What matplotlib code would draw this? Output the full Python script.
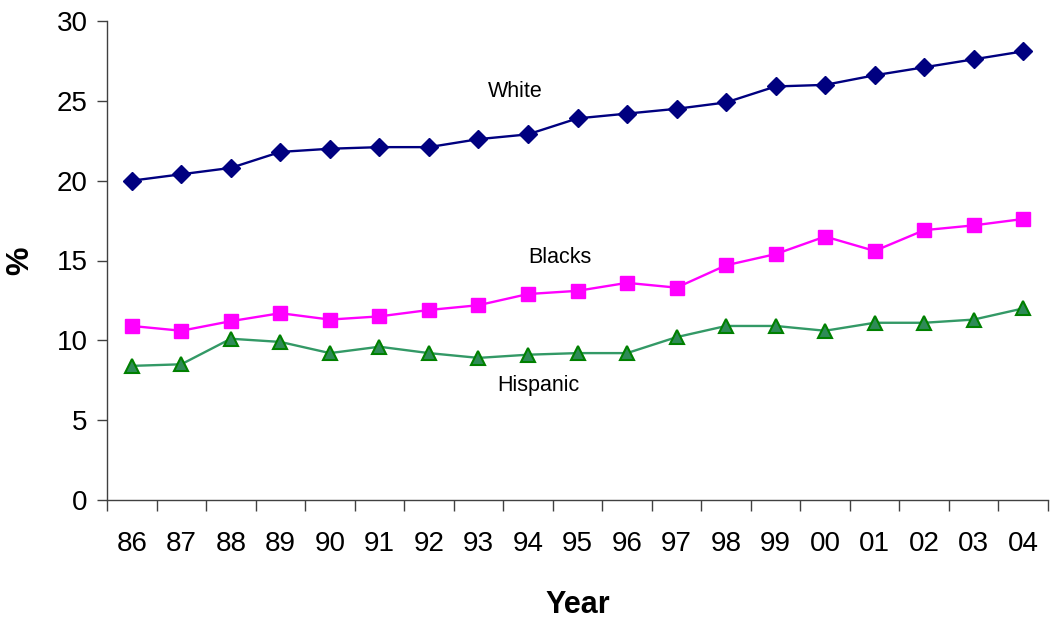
import numpy as np
import matplotlib
matplotlib.use("Agg")
from matplotlib import pyplot as plt

plt.rcParams['font.family'] = ['Liberation Sans', 'DejaVu Sans']

years = ["86", "87", "88", "89", "90", "91", "92", "93", "94", "95",
         "96", "97", "98", "99", "00", "01", "02", "03", "04"]
white = [20.0, 20.4, 20.8, 21.8, 22.0, 22.1, 22.1, 22.6, 22.9, 23.9,
         24.2, 24.5, 24.9, 25.9, 26.0, 26.6, 27.1, 27.6, 28.1]
blacks = [10.9, 10.6, 11.2, 11.7, 11.3, 11.5, 11.9, 12.2, 12.9, 13.1,
          13.6, 13.3, 14.7, 15.4, 16.5, 15.6, 16.9, 17.2, 17.6]
hispanic = [8.4, 8.5, 10.1, 9.9, 9.2, 9.6, 9.2, 8.9, 9.1, 9.2,
            9.2, 10.2, 10.9, 10.9, 10.6, 11.1, 11.1, 11.3, 12.0]

x = np.arange(len(years))

fig = plt.figure(figsize=(10.52, 6.22), dpi=100)
ax = fig.add_axes([107 / 1052, 1 - 500 / 622, (1048 - 107) / 1052, (500 - 21) / 622])

ax.plot(x, white, color="#000080", lw=1.7, marker="D", ms=9.5,
        mfc="#000080", mec="#000080")
ax.plot(x, blacks, color="#FF00FF", lw=1.7, marker="s", ms=10,
        mfc="#FF00FF", mec="#FF00FF")
ax.plot(x, hispanic, color="#339966", lw=1.7, marker="^", ms=10.5,
        mfc="#2E8B57", mec="#008000", mew=1.5)

ax.set_xlim(-0.5, len(years) - 0.5)
ax.set_ylim(0, 30)
ax.set_yticks(range(0, 31, 5))
ax.tick_params(axis="y", labelsize=20, length=7, width=1, color="#404040", pad=7)

# category axis: ticks sit between the years, labels in the middle
ax.set_xticks(np.arange(-0.5, len(years), 1.0))
ax.set_xticklabels([])
ax.set_xticks(x, minor=True)
ax.set_xticklabels(years, minor=True)
ax.tick_params(axis="x", which="major", length=8, width=1, color="#404040")
ax.tick_params(axis="x", which="minor", length=0, labelsize=20, pad=22)

for side in ["top", "right"]:
    ax.spines[side].set_visible(False)
for side in ["left", "bottom"]:
    ax.spines[side].set_color("#404040")
    ax.spines[side].set_linewidth(1)

ax.set_xlabel("Year", fontsize=22, fontweight="bold", labelpad=24)
ax.set_ylabel("%", fontsize=23, fontweight="bold")
ax.yaxis.set_label_coords(-0.0765, 0.5)

ax.text(7.74, 25.24, "White", fontsize=15.5, ha="center", va="baseline")
ax.text(8.65, 14.84, "Blacks", fontsize=15.5, ha="center", va="baseline")
ax.text(8.2, 6.85, "Hispanic", fontsize=15.5, ha="center", va="baseline")

fig.savefig("out.png", dpi=100)
